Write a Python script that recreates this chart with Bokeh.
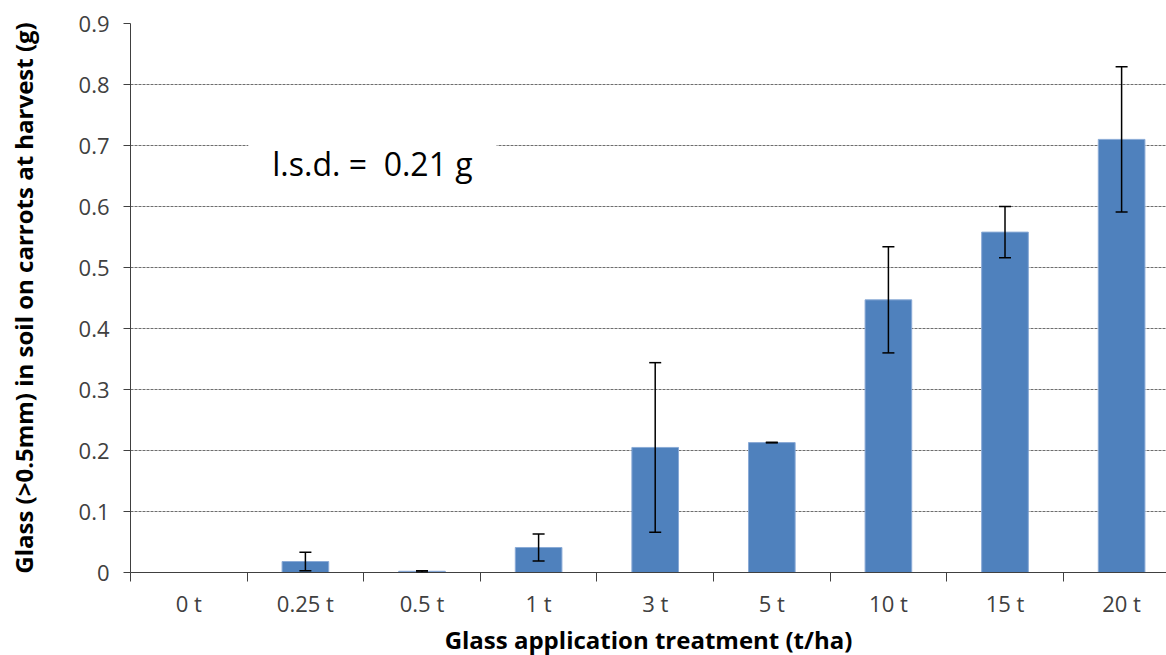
from bokeh.plotting import figure
from bokeh.models import (ColumnDataSource, Range1d, FixedTicker, PrintfTickFormatter,
                          Whisker, TeeHead, Label, Title)
from bokeh.embed import file_html
from bokeh.resources import INLINE

# ---- data ----
categories = ["0 t", "0.25 t", "0.5 t", "1 t", "3 t", "5 t", "10 t", "15 t", "20 t"]
means = [0.0, 0.018, 0.002, 0.041, 0.205, 0.213, 0.447, 0.558, 0.710]
errors = [0.0, 0.015, 0.001, 0.022, 0.139, 0.0005, 0.087, 0.042, 0.119]
y_ticks = [0, 0.1, 0.2, 0.3, 0.4, 0.5, 0.6, 0.7, 0.8, 0.9]
lsd_text = "l.s.d. =\u00a0 0.21 g"
x_title = "Glass application treatment (t/ha)"
y_title = "Glass (>0.5mm) in soil on carrots at harvest (g)"

FONT = "Open Sans"
BAR = "#4F81BD"
AXIS = "#404040"

xs = list(range(len(categories)))
src = ColumnDataSource(dict(
    x=xs,
    top=means,
))
has_err = [i for i, e in enumerate(errors) if e > 0]
err_src = ColumnDataSource(dict(
    x=[xs[i] for i in has_err],
    upper=[means[i] + errors[i] for i in has_err],
    lower=[means[i] - errors[i] for i in has_err],
))

p = figure(width=1166, height=655, output_backend="svg", toolbar_location=None,
           x_range=Range1d(-0.5, 8.385), y_range=Range1d(0, 0.9),
           min_border_left=130, min_border_right=0, min_border_top=23, min_border_bottom=83,
           background_fill_color="white", border_fill_color="white")
p.outline_line_color = None

p.vbar(x="x", top="top", width=0.4, source=src, fill_color=BAR,
       line_color="#8aaad6", line_width=1)

w = Whisker(base="x", upper="upper", lower="lower", source=err_src, level="overlay",
            line_color="black", line_width=1.5,
            upper_head=TeeHead(size=12, line_color="black", line_width=1.5),
            lower_head=TeeHead(size=12, line_color="black", line_width=1.5))
p.add_layout(w)

# y axis
p.yaxis.ticker = FixedTicker(ticks=y_ticks)
p.yaxis.formatter = PrintfTickFormatter(format="%.1f")
p.yaxis.major_label_overrides = {0: "0"}
p.yaxis.minor_tick_line_color = None
p.yaxis.major_tick_out = 7
p.yaxis.major_tick_in = 0
p.yaxis.axis_line_color = AXIS
p.yaxis.major_tick_line_color = AXIS
p.yaxis.major_label_text_font = FONT
p.yaxis.major_label_text_font_size = "22px"
p.yaxis.major_label_text_color = "#404040"
p.yaxis.major_label_standoff = 14
p.yaxis.axis_label = y_title
p.yaxis.axis_label_text_font = FONT
p.yaxis.axis_label_text_font_style = "bold"
p.yaxis.axis_label_text_font_size = "24px"
p.yaxis.axis_label_text_color = "black"
p.yaxis.axis_label_standoff = 36

# x axis (tick labels only; title added as a Title below)
p.xaxis.ticker = FixedTicker(ticks=xs, minor_ticks=[i - 0.5 for i in xs] + [len(xs) - 0.5])
p.xaxis.major_label_overrides = {i: c for i, c in zip(xs, categories)}
p.xaxis.major_tick_out = 0
p.xaxis.major_tick_in = 0
p.xaxis.major_tick_line_color = None
p.xaxis.minor_tick_out = 9
p.xaxis.minor_tick_in = 0
p.xaxis.minor_tick_line_color = AXIS
p.xaxis.axis_line_color = AXIS
p.xaxis.major_label_text_font = FONT
p.xaxis.major_label_text_font_size = "22px"
p.xaxis.major_label_text_color = "#404040"
p.xaxis.major_label_standoff = 6

xt = Title(text=x_title, align="center", text_font=FONT, text_font_size="24px",
           text_font_style="bold", text_color="black", standoff=0)
p.add_layout(xt, "below")

# grid
p.xgrid.grid_line_color = None
p.ygrid.ticker = FixedTicker(ticks=y_ticks)
p.ygrid.grid_line_color = "#6e6e6e"
p.ygrid.grid_line_dash = "3 1"
p.ygrid.grid_line_width = 1

lab = Label(x=0.51, y=0.67, text=lsd_text, text_font=FONT, text_font_size="32px",
            text_color="black", text_baseline="middle", text_align="left",
            background_fill_color="white", padding=(24, 6))
p.add_layout(lab)

open("out.html", "w").write(file_html(p, INLINE))
